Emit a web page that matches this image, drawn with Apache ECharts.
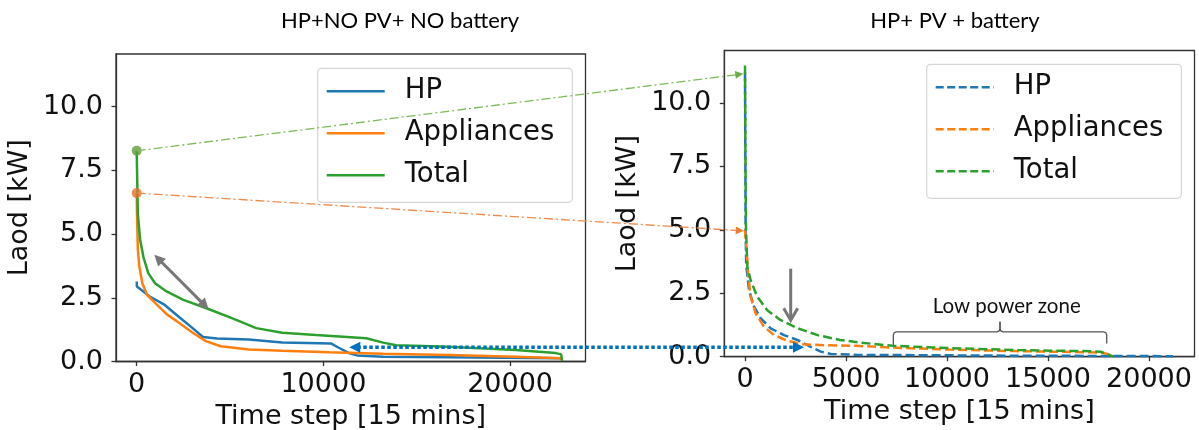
<!DOCTYPE html>
<html><head><meta charset="utf-8">
<script src="https://cdn.jsdelivr.net/npm/echarts@6/dist/echarts.min.js"></script>
<style>html,body{margin:0;padding:0;background:#fff}#c{width:1199px;height:430px}</style>
</head><body><div id="c"></div>
<script>
// ---------- data (time step [15 mins], load [kW]) ----------
const leftHP = [[0,3.14],[10,2.94],[700,2.55],[1500,2.22],[2300,1.73],[2900,1.37],[3550,0.96],[4300,0.90],[6000,0.86],[7800,0.75],[10400,0.71],[10800,0.55],[11400,0.32],[11800,0.24],[13200,0.19],[16700,0.17],[22780,0.13]];
const leftAppliances = [[0,6.61],[15,5.8],[40,5.05],[60,4.4],[140,3.73],[300,3.07],[560,2.61],[1050,2.25],[1600,1.86],[2300,1.5],[3000,1.13],[3700,0.8],[4500,0.6],[6000,0.47],[7800,0.42],[10300,0.36],[13200,0.3],[16700,0.26],[20300,0.19],[22740,0.13],[22780,0.05]];
const leftTotal = [[0,8.27],[20,7.4],[40,6.6],[60,5.8],[180,4.8],[360,4.1],[620,3.47],[980,3.07],[1600,2.75],[2500,2.42],[3700,2.1],[5100,1.7],[6400,1.31],[7800,1.13],[9600,1.04],[12300,0.91],[13200,0.74],[13900,0.64],[16700,0.58],[20300,0.45],[22450,0.33],[22740,0.28],[22780,0.02]];
const rightHP = [[0,11.2],[30,5.0],[60,3.6],[200,2.62],[450,1.97],[780,1.51],[1270,1.12],[1930,0.85],[2600,0.66],[3250,0.39],[3750,0.2],[4250,0.11],[5600,0.07],[8900,0.06],[13000,0.04],[18000,0.03],[21190,0.02]];
const rightAppliances = [[0,5.0],[80,4.2],[150,3.28],[280,2.36],[530,1.7],[940,1.18],[1440,0.85],[2100,0.63],[2900,0.49],[3900,0.45],[5500,0.43],[7300,0.36],[10100,0.28],[13400,0.22],[16700,0.18],[17600,0.16],[17900,0.12],[18250,0.0]];
const rightTotal = [[0,11.48],[20,8.0],[50,5.0],[115,3.54],[280,3.01],[610,2.36],[1100,1.83],[1770,1.44],[2600,1.12],[3600,0.85],[4700,0.66],[5900,0.54],[7300,0.43],[10100,0.34],[13500,0.26],[16700,0.22],[17600,0.2],[17900,0.11],[18250,0.0]];
const peakTotalLeft = [[0,8.27]];
const peakApplLeft = [[0,6.61]];

const xTicksLeft = [0,10000,20000];
const xTicksRight = [0,5000,10000,15000,20000];
const yTicks = [0,2.5,5,7.5,10];
const seriesNames = ['HP','Appliances','Total'];
const titles = ['HP+NO PV+ NO battery','HP+ PV + battery'];
const zoneLabel = 'Low power zone';
const axisNames = {x:'Time step [15 mins]', y:'Laod [kW]'};

const COLORS = ['#1f77b4','#ff7f0e','#2ca02c'];
const FONT = 'DejaVu Sans';
const INK = '#111';
const SPINE = '#333';

function xAxisCfg(grid, min, max, ticks){
  return {gridIndex:grid, type:'value', min:min, max:max,
    axisLine:{show:true,onZero:false,lineStyle:{color:SPINE,width:1.3}},
    axisTick:{show:true,inside:false,length:4.5,customValues:ticks,lineStyle:{color:SPINE,width:1.3}},
    axisLabel:{customValues:ticks,fontSize:27,fontFamily:FONT,color:INK,margin:10,formatter:v=>String(v)},
    splitLine:{show:false},
    name:axisNames.x,nameLocation:'middle',nameGap:42,
    nameTextStyle:{fontSize:27,fontFamily:FONT,color:INK}};
}
function yAxisCfg(grid){
  return {gridIndex:grid, type:'value', min:0, max:12.07,
    axisLine:{show:true,onZero:false,lineStyle:{color:SPINE,width:1.3}},
    axisTick:{show:true,inside:false,length:4.5,customValues:yTicks,lineStyle:{color:SPINE,width:1.3}},
    axisLabel:{customValues:yTicks,fontSize:27,fontFamily:FONT,color:INK,margin:13,formatter:v=>v.toFixed(1)},
    splitLine:{show:false},
    name:axisNames.y,nameLocation:'middle',nameGap:83,
    nameTextStyle:{fontSize:27,fontFamily:FONT,color:INK}};
}
function lineSeries(name, grid, data, color, dashed, z){
  return {type:'line', name:name, xAxisIndex:grid, yAxisIndex:grid, data:data,
    symbol:'none', showSymbol:false, animation:false, z:z,
    lineStyle:{color:color,width:2.5,type:dashed?[9,4]:'solid'}, itemStyle:{color:color}};
}
// legend icons: solid bar / dashed bar (58 x 2.5)
const SOLID_ICON = 'path://M0,0H58V2.5H0Z';
const DASH_ICON = 'path://M0,0H8V2.5H0Z M11.5,0H19.5V2.5H11.5Z M23,0H31V2.5H23Z M34.5,0H42.5V2.5H34.5Z M46,0H54V2.5H46Z M57.5,0H58V2.5H57.5Z';
function legendCfg(left, top, names, dashed){
  return {orient:'vertical', left:left, top:top,
    data:names.map(n=>({name:n, icon: dashed ? DASH_ICON : SOLID_ICON})),
    padding:[9,18,13,9], itemWidth:58, itemHeight:2.5, itemGap:14,
    backgroundColor:'rgba(255,255,255,0.8)', borderColor:'#d6d6d6', borderWidth:1.2, borderRadius:4,
    formatter:n=>n.trim(),
    textStyle:{fontSize:27.5,fontFamily:FONT,color:INK,lineHeight:27,padding:[0,0,0,15]},
    selectedMode:false};
}
const rightNames = seriesNames.map(n=>n+' ');

const option = {
  animation:false,
  backgroundColor:'#fff',
  grid:[
    {left:116, top:54, width:469.5, height:307.5, show:true, borderColor:SPINE, borderWidth:1.3, containLabel:false, outerBoundsMode:'none'},
    {left:724.3, top:50.5, width:470.2, height:306.2, show:true, borderColor:SPINE, borderWidth:1.3, containLabel:false, outerBoundsMode:'none'}
  ],
  xAxis:[xAxisCfg(0,-1109,24040,xTicksLeft), xAxisCfg(1,-1025,22252,xTicksRight)],
  yAxis:[yAxisCfg(0), yAxisCfg(1)],
  legend:[legendCfg(317.7,68.3,seriesNames,false), legendCfg(926.7,64.3,rightNames,true)],
  series:[
    lineSeries(seriesNames[0],0,leftHP,COLORS[0],false,2),
    lineSeries(seriesNames[1],0,leftAppliances,COLORS[1],false,3),
    lineSeries(seriesNames[2],0,leftTotal,COLORS[2],false,4),
    lineSeries(rightNames[0],1,rightHP,COLORS[0],true,2),
    lineSeries(rightNames[1],1,rightAppliances,COLORS[1],true,3),
    lineSeries(rightNames[2],1,rightTotal,COLORS[2],true,4),
    {type:'scatter',name:'peakTotal',xAxisIndex:0,yAxisIndex:0,data:peakTotalLeft,symbolSize:10,itemStyle:{color:'#5c9e3a'},z:6,animation:false},
    {type:'scatter',name:'peakAppl',xAxisIndex:0,yAxisIndex:0,data:peakApplLeft,symbolSize:10,itemStyle:{color:'#e2732a'},z:6,animation:false}
  ]
};

const chart = echarts.init(document.getElementById('c'), null, {renderer:'canvas'});
chart.setOption(option);

// ---------- annotations placed through the axes' scales ----------
const P = (g, pt) => chart.convertToPixel({gridIndex:g}, pt);
function headPts(tip, from, len, hw){
  const dx=tip[0]-from[0], dy=tip[1]-from[1], d=Math.hypot(dx,dy), ux=dx/d, uy=dy/d;
  const bx=tip[0]-ux*len, by=tip[1]-uy*len;
  return [[tip[0],tip[1]],[bx-uy*hw,by+ux*hw],[bx+uy*hw,by-ux*hw]];
}
function back(tip, from, len){
  const dx=tip[0]-from[0], dy=tip[1]-from[1], d=Math.hypot(dx,dy);
  return [tip[0]-dx/d*len, tip[1]-dy/d*len];
}
const g = [];
// titles
g.push({type:'text', x:400, y:21, z:100, style:{text:titles[0], font:'22px Lato', fill:'#000', textAlign:'center', textVerticalAlign:'middle'}});
g.push({type:'text', x:955, y:21, z:100, style:{text:titles[1], font:'22px Lato', fill:'#000', textAlign:'center', textVerticalAlign:'middle'}});

// green dash-dot connector (peak total)
{
  const a = P(0, peakTotalLeft[0]), b = P(1, [-85, 11.15]);
  const e = back(b, a, 6);
  g.push({type:'polyline', z:100, shape:{points:[a,e]}, style:{stroke:'#7dbb5a', lineWidth:1.3, lineDash:[9,3,2,3], fill:null}});
  g.push({type:'polygon', z:100, shape:{points:headPts(b,a,8,4)}, style:{fill:'#6aae47'}});
}
// orange dash-dot connector (peak appliances)
{
  const a = P(0, peakApplLeft[0]), b = P(1, [-60, 4.96]);
  const e = back(b, a, 6);
  g.push({type:'polyline', z:100, shape:{points:[a,e]}, style:{stroke:'#f08a4b', lineWidth:1.3, lineDash:[9,3,2,3], fill:null}});
  g.push({type:'polygon', z:100, shape:{points:headPts(b,a,8,4)}, style:{fill:'#ed7d31'}});
}
// blue dotted double arrow
{
  const a = P(0, [11387, 0.56]), b = P(1, [2920, 0.37]);
  const a2 = back(a, b, 8), b2 = back(b, a, 8);
  g.push({type:'polyline', z:100, shape:{points:[a2,b2]}, style:{stroke:'#0070c0', lineWidth:3.5, lineDash:[3.5,2.5], fill:null}});
  g.push({type:'polygon', z:100, shape:{points:headPts(a,b,11,5.5)}, style:{fill:'#0070c0'}});
  g.push({type:'polygon', z:100, shape:{points:headPts(b,a,11,5.5)}, style:{fill:'#0070c0'}});
}
// gray double arrow, left panel
{
  const a = P(0, [943, 4.19]), b = P(0, [3856, 2.05]);
  const a2 = back(a, b, 7), b2 = back(b, a, 7);
  g.push({type:'polyline', z:100, shape:{points:[a2,b2]}, style:{stroke:'#777', lineWidth:3, fill:null}});
  g.push({type:'polygon', z:100, shape:{points:headPts(a,b,11,5.5)}, style:{fill:'#777'}});
  g.push({type:'polygon', z:100, shape:{points:headPts(b,a,11,5.5)}, style:{fill:'#777'}});
}
// gray down arrow, right panel
{
  const a = P(1, [2262, 3.47]), b = P(1, [2262, 1.44]);
  g.push({type:'polyline', z:100, shape:{points:[a,[b[0],b[1]-1]]}, style:{stroke:'#777', lineWidth:3, fill:null}});
  g.push({type:'polyline', z:100, shape:{points:[[b[0]-7,b[1]-12],[b[0],b[1]],[b[0]+7,b[1]-12]]}, style:{stroke:'#777', lineWidth:3, fill:null, lineJoin:'miter'}});
}
// low power zone brace
{
  const L = P(1, [7342, 0.46]), R = P(1, [17906, 0.52]), H = P(1, [12624, 0.98]), C = P(1, [12624, 1.38]);
  const x1=L[0], x2=R[0], xc=H[0], yh=H[1], yc=C[1], r=3;
  const leftHalf = [[x1,L[1]],[x1,yh+r],[x1+0.9,yh+0.9],[x1+r,yh],[xc-r,yh],[xc-0.9,yh-0.9],[xc,yh-r],[xc,yc]];
  const rightHalf = [[xc,yc],[xc,yh-r],[xc+0.9,yh-0.9],[xc+r,yh],[x2-r,yh],[x2-0.9,yh+0.9],[x2,yh+r],[x2,R[1]]];
  g.push({type:'polyline', z:100, shape:{points:leftHalf}, style:{stroke:'#555', lineWidth:1.3, fill:null}});
  g.push({type:'polyline', z:100, shape:{points:rightHalf}, style:{stroke:'#555', lineWidth:1.3, fill:null}});
  const T = P(1, [12955, 1.99]);
  g.push({type:'text', x:T[0], y:T[1], z:100, style:{text:zoneLabel, font:'20.5px Lato', fill:'#111', textAlign:'center', textVerticalAlign:'middle'}});
}
chart.setOption({graphic:g});
</script></body></html>
